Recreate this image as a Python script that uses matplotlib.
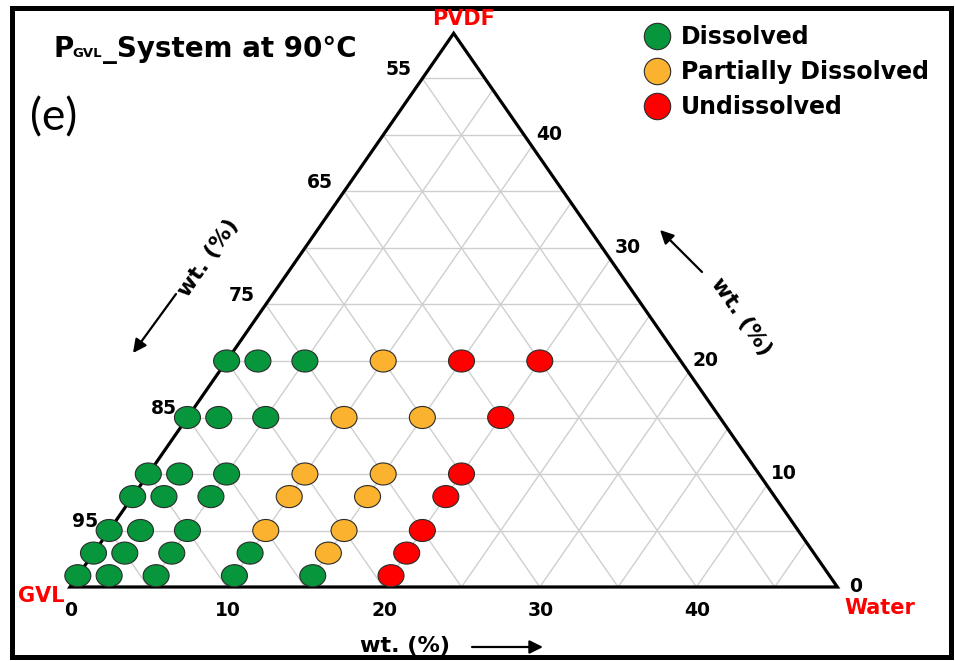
import matplotlib.pyplot as plt
from matplotlib.patches import Ellipse, Polygon, Rectangle
from matplotlib.lines import Line2D

plt.rcParams['font.family'] = 'DejaVu Sans'

# ternary data: water / PVDF wt.% (GVL is the balance)
SIDE = 49
pvdf = [1, 3, 5, 8, 10, 15, 20]
water = [0, 2, 5, 10, 15, 20]
# D = dissolved, P = partially dissolved, U = undissolved ; rows follow pvdf
state = [
    ['D', 'D', 'D', 'D', 'D', 'U'],
    ['D', 'D', 'D', 'D', 'P', 'U'],
    ['D', 'D', 'D', 'P', 'P', 'U'],
    ['D', 'D', 'D', 'P', 'P', 'U'],
    ['D', 'D', 'D', 'P', 'P', 'U'],
    ['D', 'D', 'D', 'P', 'P', 'U'],
    ['D', 'D', 'D', 'P', 'U', 'U'],
]
colors = {'D': '#07963b', 'P': '#fbb22f', 'U': '#ff0000'}
names = {'D': 'Dissolved', 'P': 'Partially Dissolved', 'U': 'Undissolved'}

bottom_ticks = [0, 10, 20, 30, 40]
left_ticks = [55, 65, 75, 85, 95]
right_ticks = [0, 10, 20, 30, 40]

W, H = 955, 661
fig = plt.figure(figsize=(W / 100, H / 100), dpi=100)
ax = fig.add_axes([0, 0, 1, 1])
ax.set_xlim(-70 / 15.66, (W - 70) / 15.66)
ax.set_ylim(-74 / 11.3, 587 / 11.3)
ax.axis('off')


def tern(w, p):
    return w + p / 2, p


def fpx(x, y):
    # pixel position measured from top-left -> figure pixels
    return x, H - y


# grid
gc = '#cfcfcf'
for v in range(5, SIDE, 5):
    ax.plot([v / 2, SIDE - v / 2], [v, v], color=gc, lw=1.0, zorder=1)
    ax.plot([v, v + (SIDE - v) / 2], [0, SIDE - v], color=gc, lw=1.0, zorder=1)
    ax.plot([v, v / 2], [0, v], color=gc, lw=1.0, zorder=1)

# triangle outline
tri = Polygon([tern(0, 0), tern(SIDE, 0), tern(0, SIDE)], closed=True,
              fill=False, ec='black', lw=2.3, zorder=2, joinstyle='miter')
ax.add_patch(tri)

# experimental points
for i, p in enumerate(pvdf):
    for j, w in enumerate(water):
        ax.add_patch(Ellipse(tern(w, p), 1.66, 1.95, fc=colors[state[i][j]],
                             ec='#2b2b2b', lw=0.8, zorder=3))

# tick labels
tk = dict(fontsize=13.5, fontweight='bold', textcoords='offset pixels')
for t in bottom_ticks:
    ax.annotate(str(t), tern(t, 0), xytext=(1, -23), ha='center', va='center', **tk)
for t in left_ticks:
    ax.annotate(str(t), tern(0, 100 - t), xytext=(-11, 9), ha='right', va='center', **tk)
for t in right_ticks:
    ax.annotate(str(t), tern(SIDE - t, t), xytext=(12, 0), ha='left', va='center', **tk)

# corner names
red = dict(color='#ff0000', fontweight='bold', fontsize=15, ha='center', va='center')
fig.text(464 / W, 1 - 19 / H, 'PVDF', **red)
fig.text(41 / W, 1 - 596 / H, 'GVL', **red)
fig.text(880 / W, 1 - 608 / H, 'Water', **red)

# axis titles with arrows
ttl = dict(fontsize=16, fontweight='bold', ha='center', va='center', rotation_mode='anchor')
fig.text(405 / W, 1 - 646 / H, 'wt. (%)', **ttl)
fig.text(208 / W, 1 - 258 / H, 'wt. (%)', rotation=55, **ttl)
fig.text(741 / W, 1 - 317 / H, 'wt. (%)', rotation=-55, **ttl)
arr = dict(arrowstyle='-|>', color='black', lw=1.6, mutation_scale=20, shrinkA=0, shrinkB=0)
ax.annotate('', xy=fpx(543, 647), xytext=fpx(472, 647), xycoords='figure pixels', arrowprops=arr)
ax.annotate('', xy=fpx(133, 353), xytext=fpx(176, 294), xycoords='figure pixels', arrowprops=arr)
ax.annotate('', xy=fpx(660, 230), xytext=fpx(702, 272), xycoords='figure pixels', arrowprops=arr)

# title
tt = dict(fontweight='bold', va='baseline', ha='left')
fig.text(53 / W, 1 - 57 / H, 'P', fontsize=20, **tt)
fig.text(72 / W, 1 - 57 / H, 'GVL', fontsize=9.5, **tt)
fig.text(103 / W, 1 - 57 / H, '_System at 90°C', fontsize=20, **tt)
fig.text(30 / W, 1 - 118 / H, '(e)', fontsize=32, family='Lato', ha='left', va='center')

# legend
handles = [Line2D([], [], ls='', marker='o', ms=19, mfc=colors[k], mec='#2b2b2b',
                  mew=0.8, label=names[k]) for k in ['D', 'P', 'U']]
ax.legend(handles=handles, loc='upper left', bbox_to_anchor=(643 / W, 1 - 25 / H),
          bbox_transform=fig.transFigure, frameon=False,
          prop={'weight': 'bold', 'size': 17}, handlelength=1.2, handletextpad=0.4,
          labelspacing=0.47, borderpad=0, borderaxespad=0)

# outer frame
fig.patches.append(Rectangle((12 / W, 4 / H), 939 / W, 649 / H, fill=False, ec='black',
                             lw=3.6, transform=fig.transFigure, figure=fig))

fig.savefig('out.png', dpi=100)
